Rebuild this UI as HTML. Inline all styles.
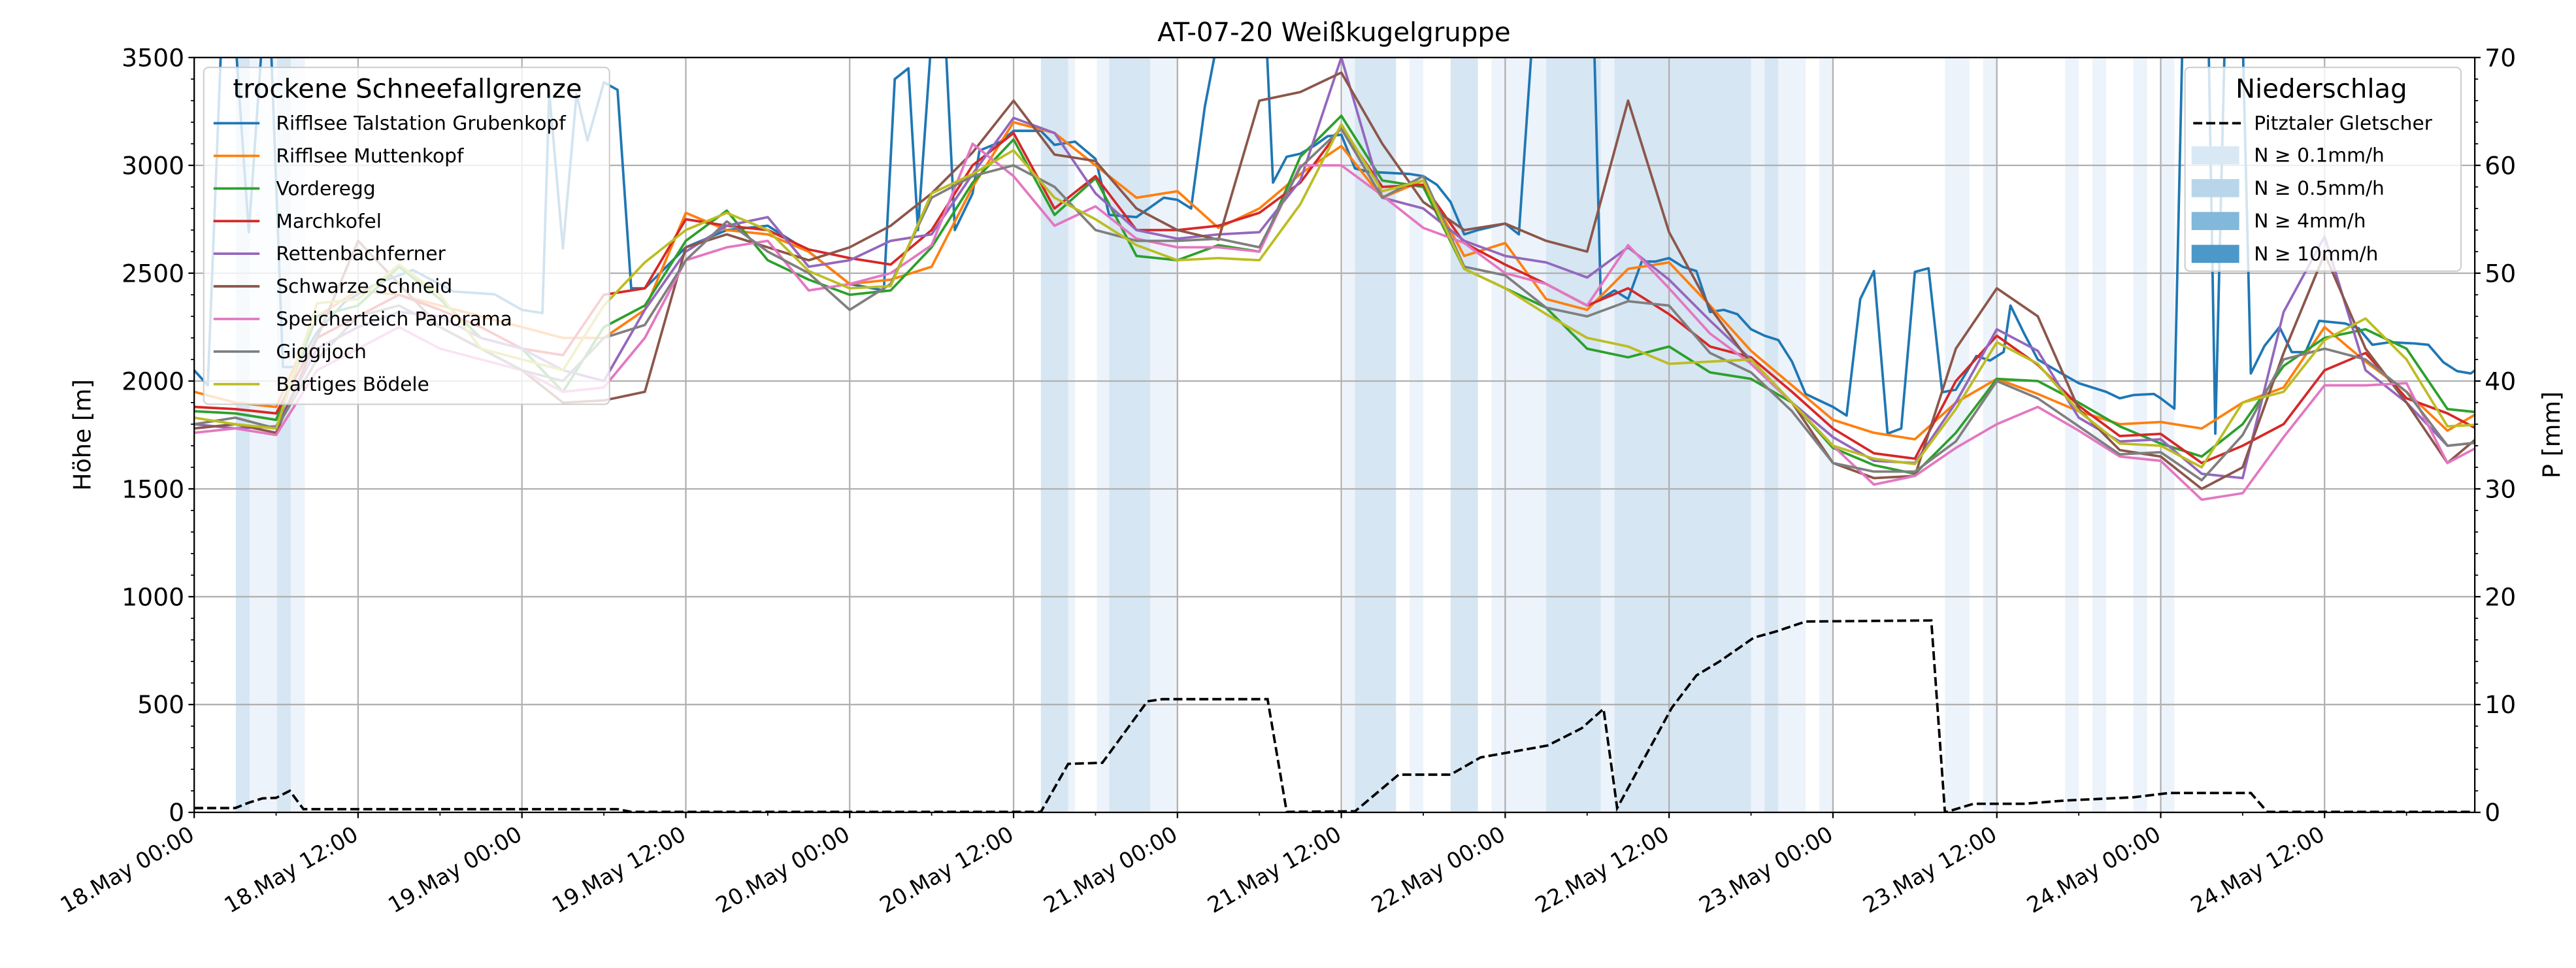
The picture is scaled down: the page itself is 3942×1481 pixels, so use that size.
<!DOCTYPE html>
<html><head><meta charset="utf-8">
<style>
html,body{margin:0;padding:0;background:#fff;}
svg{display:block;font-family:"DejaVu Sans","Liberation Sans",sans-serif;}
</style></head>
<body>
<svg id="chart" width="3942" height="1481" viewBox="0 0 1568 589.1" preserveAspectRatio="none" xmlns="http://www.w3.org/2000/svg">
<defs><clipPath id="plotclip"><rect x="118.2" y="35" width="1388.2" height="459.4"/></clipPath></defs>
<g id="bands" clip-path="url(#plotclip)"></g>
<g id="grid"></g>
<g id="lines" clip-path="url(#plotclip)"></g>
<g id="legend1"></g>
<g id="precip" clip-path="url(#plotclip)"></g>
<g id="axes"></g>
<g id="legend2"></g>
<text x="812" y="25" font-size="16" text-anchor="middle">AT-07-20 Weißkugelgruppe</text>
<text transform="translate(55,264.7) rotate(-90)" font-size="14.5" text-anchor="middle">Höhe [m]</text>
<text transform="translate(1558,264.7) rotate(-90)" font-size="14.5" text-anchor="middle">P [mm]</text>
</svg>
<script>
const hours3 = [0,3,6,9,12,15,18,21,24,27,30,33,36,39,42,45,48,51,54,57,60,63,66,69,72,75,78,81,84,87,90,93,96,99,102,105,108,111,114,117,120,123,126,129,132,135,138,141,144,147,150,153,156,159,162,165,168];
const orangeVals = [1950,1900,1880,2300,2420,2400,2350,2300,2250,2200,2200,2330,2780,2700,2680,2600,2450,2470,2530,2900,3200,3150,3000,2850,2880,2710,2800,2960,3090,2850,2930,2580,2640,2380,2330,2520,2550,2350,2140,1980,1820,1760,1730,1900,2010,1940,1860,1800,1810,1780,1900,1970,2250,2090,1950,1770,1880];
const greenVals = [1860,1850,1820,2300,2350,2530,2380,2200,2150,1950,2250,2350,2650,2790,2560,2470,2400,2420,2620,2920,3120,2770,2940,2580,2560,2630,2600,3040,3230,2930,2900,2520,2430,2340,2150,2110,2160,2040,2010,1900,1690,1610,1570,1760,2010,2000,1900,1790,1710,1650,1800,2070,2200,2240,2150,1870,1850];
const redVals = [1880,1870,1850,2200,2300,2400,2330,2250,2150,2120,2400,2430,2750,2720,2700,2610,2570,2540,2700,3000,3150,2800,2950,2700,2700,2720,2780,2920,3175,2900,2910,2640,2540,2450,2350,2430,2310,2160,2110,1950,1780,1665,1640,2000,2210,2075,1885,1745,1755,1620,1700,1800,2050,2130,1920,1850,1750];
const purpleVals = [1800,1780,1790,2150,2250,2320,2300,2200,2150,2050,2000,2330,2600,2720,2760,2530,2560,2650,2680,2960,3220,3150,2870,2700,2660,2680,2690,2930,3500,2850,2800,2650,2580,2550,2480,2620,2470,2280,2100,1900,1740,1630,1620,1900,2240,2140,1830,1720,1730,1570,1550,2320,2670,2050,1900,1700,1720];
const brownVals = [1780,1800,1760,2200,2650,2450,2250,2150,2050,1900,1910,1950,2620,2680,2620,2560,2620,2720,2870,3060,3300,3050,3020,2800,2700,2655,3300,3340,3430,3100,2830,2700,2730,2650,2600,3300,2690,2340,2080,1900,1620,1550,1560,2150,2430,2300,1870,1680,1650,1500,1600,2130,2590,2150,1900,1620,1780];
const pinkVals = [1760,1780,1750,2050,2150,2250,2150,2100,2050,1950,1970,2200,2560,2620,2650,2420,2450,2500,2630,3100,2950,2720,2810,2660,2620,2620,2600,3000,3000,2860,2710,2640,2500,2450,2350,2630,2430,2220,2080,1900,1700,1520,1560,1690,1800,1880,1770,1650,1630,1450,1480,1740,1980,1980,1990,1620,1720];
const grayVals = [1800,1830,1780,2100,2300,2350,2250,2150,2050,2000,2200,2260,2560,2740,2600,2500,2330,2450,2850,2950,3000,2900,2700,2650,2650,2660,2620,2990,3170,2850,2950,2530,2490,2340,2300,2370,2350,2130,2040,1860,1620,1580,1580,1720,2000,1920,1790,1660,1670,1540,1750,2100,2150,2100,1950,1700,1720];
const yellowVals = [1830,1800,1780,2360,2380,2540,2400,2150,2100,2050,2350,2550,2700,2780,2700,2510,2430,2440,2870,2960,3070,2850,2750,2630,2560,2570,2560,2820,3190,2880,2930,2520,2430,2310,2200,2160,2080,2090,2100,1900,1700,1640,1615,1870,2180,2080,1860,1710,1700,1600,1900,1950,2190,2290,2100,1790,1800];
const blueHours = [0,1,2,3,4,5,5.6,6.5,7.5,9,11,13,16,19,22,24,25.5,26,27,28,28.8,30,31,32,33,36,39,42,45,48,50.5,51.3,52.3,53,54,55,55.7,57,57.5,59,60,62,63,64.5,66,67,69,71,72,73,74,75,78.5,79,80,81,82,83,84,85,86,89,90,91,92,93,94,96,97,98,102.5,103,104,105,106,107,108,109,110,111,112,113,114,115,116,117,118,120,121,122,123,124,125,126,127,128,129,130.5,131.5,132.5,133,134,135,136.6,138,140,141,142,143.5,144,145,145.6,147.5,148,148.7,150,150.6,151.6,152.7,153.6,154.6,155.6,157.5,158.5,159.5,160.8,162.6,163.6,164.7,165.7,166.7,167.7];
const blueVals = [2050,1980,3600,3600,2690,3600,3600,2065,2065,2227,2365,2440,2515,2415,2402,2330,2315,3340,2615,3330,3115,3385,3350,2430,2430,2620,2700,2720,2600,2450,2420,3400,3450,2700,3600,3600,2700,2870,3068,3108,3160,3160,3095,3110,3030,2770,2760,2850,2840,2800,3270,3600,3600,2920,3040,3054,3090,3135,3142,2986,2970,2960,2950,2910,2830,2680,2700,2730,2680,3600,3600,2380,2420,2380,2554,2554,2570,2530,2510,2320,2330,2310,2240,2210,2190,2090,1940,1880,1840,2380,2510,1756,1780,2506,2523,1948,1960,2116,2095,2135,2350,2220,2100,2040,1990,1950,1920,1935,1940,1920,1872,3600,3600,1756,3600,3600,2035,2163,2250,2134,2134,2279,2267,2244,2168,2180,2174,2168,2087,2046,2035,2081];
const seriesNames = ["Rifflsee Talstation Grubenkopf","Rifflsee Muttenkopf","Vorderegg","Marchkofel","Rettenbachferner","Schwarze Schneid","Speicherteich Panorama","Giggijoch","Bartiges Bödele"];
const precipHours = [0,3,4,5,6,7,8,31,32,62,64,66.5,69.8,70.9,78.6,80,85,88.2,92,94.2,99.1,101.6,103.2,104.2,106,108.2,110,111.7,114.2,115.9,118,127.2,128.2,130.3,134,137,142,144.6,150.6,151.8,167];
const precipVals = [0.4,0.4,0.9,1.3,1.35,2,0.3,0.3,0.05,0.05,4.5,4.6,10.3,10.5,10.5,0.05,0.1,3.5,3.5,5.1,6.2,7.8,9.6,0.4,4.6,9.7,12.7,14,16.2,16.8,17.7,17.8,0,0.8,0.8,1.1,1.4,1.8,1.8,0.05,0.05];
const bandStart = [3.05,4.07,6.07,7.08,62,64,66.1,67,70,71,84.1,85,89,92,95,99,103,104,114,115,116,119,128.2,131,137,139,142,144];
const bandEnd   = [4.07,6.07,7.08,8.1,64,64.5,67,70,71,72,85,88,90,94,99,103,104,114,115,116,118,120,130,132,138,140,143,145];
const bandLevel = [2,1,2,1,2,1,1,2,1,1,1,2,1,2,1,2,1,2,1,2,1,1,1,1,1,1,1,1];
const yTicks = [0,500,1000,1500,2000,2500,3000,3500];
const y2Ticks = [0,10,20,30,40,50,60,70];
const xTickLabels = ["18.May 00:00","18.May 12:00","19.May 00:00","19.May 12:00","20.May 00:00","20.May 12:00","21.May 00:00","21.May 12:00","22.May 00:00","22.May 12:00","23.May 00:00","23.May 12:00","24.May 00:00","24.May 12:00"];

const L=118.2,R=1506.4,T=35,B=494.4,HMAX=167;
const NS="http://www.w3.org/2000/svg";
const X=h=>L+(R-L)*h/HMAX;
const Y=v=>B-(B-T)*v/3500;
const Y2=v=>B-(B-T)*v/70;
function mk(tag,attrs,parent){const e=document.createElementNS(NS,tag);for(const k in attrs)e.setAttribute(k,attrs[k]);parent.appendChild(e);return e;}

const gb=document.getElementById('bands');
for(let i=0;i<bandStart.length;i++){
  const r=mk('rect',{x:X(bandStart[i]),y:T,width:X(bandEnd[i])-X(bandStart[i]),height:B-T,fill:bandLevel[i]===2?'#d6e6f3':'#edf3fa'},gb);
  
  
}
const gg=document.getElementById('grid');
yTicks.forEach(v=>{const l=mk('line',{x1:L,x2:R,y1:Y(v),y2:Y(v),stroke:'#b0b0b0','stroke-width':0.9},gg);
  
  });
xTickLabels.forEach((s,i)=>{const l=mk('line',{x1:X(i*12),x2:X(i*12),y1:T,y2:B,stroke:'#b0b0b0','stroke-width':0.9},gg);
  
  });
const gl=document.getElementById('lines');
const colors=['#1f77b4','#ff7f0e','#2ca02c','#d62728','#9467bd','#8c564b','#e377c2','#7f7f7f','#bcbd22'];
const allVals=[blueVals,orangeVals,greenVals,redVals,purpleVals,brownVals,pinkVals,grayVals,yellowVals];
allVals.forEach((vals,si)=>{
  const hrs=si===0?blueHours:hours3;
  const d=vals.map((v,i)=>(i?'L':'M')+X(hrs[i]).toFixed(2)+','+Y(v).toFixed(2)).join('');
  const p=mk('path',{d:d,fill:'none',stroke:colors[si],'stroke-width':1.5,'stroke-linejoin':'round'},gl);
  
  
});
const g1=document.getElementById('legend1');
const lb=mk('rect',{x:124,y:41,width:247,height:205,rx:3,fill:'#fff','fill-opacity':0.8,stroke:'#cccccc','stroke-width':0.8},g1);


const lt=mk('text',{x:248,y:59.5,'font-size':16,'text-anchor':'middle'},g1);lt.textContent='trockene Schneefallgrenze';


seriesNames.forEach((n,i)=>{
  const y=75+i*19.85;
  const h=mk('line',{x1:130,x2:158,y1:y,y2:y,stroke:colors[i],'stroke-width':1.5},g1);
  
  
  const t=mk('text',{x:168,y:y+4,'font-size':11.8},g1);t.textContent=n;
  
  
});
const gp=document.getElementById('precip');
const pd=precipVals.map((v,i)=>(i?'L':'M')+X(precipHours[i]).toFixed(2)+','+Y2(v).toFixed(2)).join('');
const pp=mk('path',{d:pd,fill:'none',stroke:'#000','stroke-width':1.5,'stroke-dasharray':'5.5,2.4'},gp);


const ga=document.getElementById('axes');
const fr=mk('rect',{x:L,y:T,width:R-L,height:B-T,fill:'none',stroke:'#000','stroke-width':0.9},ga);


for(let v=0;v<=3500;v+=100){const major=v%500===0;
  const t=mk('line',{x1:L,x2:L-(major?3.5:2),y1:Y(v),y2:Y(v),stroke:'#000','stroke-width':major?0.9:0.7},ga);
  
  }
yTicks.forEach(v=>{const t=mk('text',{x:L-6,y:Y(v)+5.3,'font-size':15,'text-anchor':'end'},ga);t.textContent=v;
  
  });
for(let v=0;v<=70;v+=2){const major=v%10===0;
  const t=mk('line',{x1:R,x2:R+(major?3.5:2),y1:Y2(v),y2:Y2(v),stroke:'#000','stroke-width':major?0.9:0.7},ga);
  
  }
y2Ticks.forEach(v=>{const t=mk('text',{x:R+6,y:Y2(v)+5.3,'font-size':15},ga);t.textContent=v;
  
  });
for(let h=0;h<=HMAX;h+=6){const major=h%12===0;
  const t=mk('line',{x1:X(h),x2:X(h),y1:B,y2:B+(major?3.5:2),stroke:'#000','stroke-width':major?0.9:0.7},ga);
  
  }
xTickLabels.forEach((s,i)=>{const x=X(i*12)+1,y=B+16;
  const t=mk('text',{x:x,y:y,'font-size':13.3,'text-anchor':'end',transform:'rotate(-30 '+x+' '+y+')'},ga);t.textContent=s;
  
  });
const g2=document.getElementById('legend2');
const rb=mk('rect',{x:1330,y:41,width:168,height:124,rx:3,fill:'#fff','fill-opacity':0.8,stroke:'#cccccc','stroke-width':0.8},g2);


const rt=mk('text',{x:1413,y:59.5,'font-size':16,'text-anchor':'middle'},g2);rt.textContent='Niederschlag';


const dl=mk('line',{x1:1335,x2:1364,y1:75,y2:75,stroke:'#000','stroke-width':1.5,'stroke-dasharray':'5.5,2.4'},g2);


const dt=mk('text',{x:1372,y:79,'font-size':11.8},g2);dt.textContent='Pitztaler Gletscher';


const patchCols=['#d9e8f5','#b9d5ea','#82b8d9','#4b98c9'];
const patchLabels=['N ≥ 0.1mm/h','N ≥ 0.5mm/h','N ≥ 4mm/h','N ≥ 10mm/h'];
patchLabels.forEach((s,i)=>{const y=94.5+i*20;
  const r=mk('rect',{x:1334,y:y-5.5,width:29,height:11,fill:patchCols[i]},g2);
  
  
  const t=mk('text',{x:1372,y:y+4,'font-size':11.8},g2);t.textContent=s;
  
  });
</script>
</body></html>
